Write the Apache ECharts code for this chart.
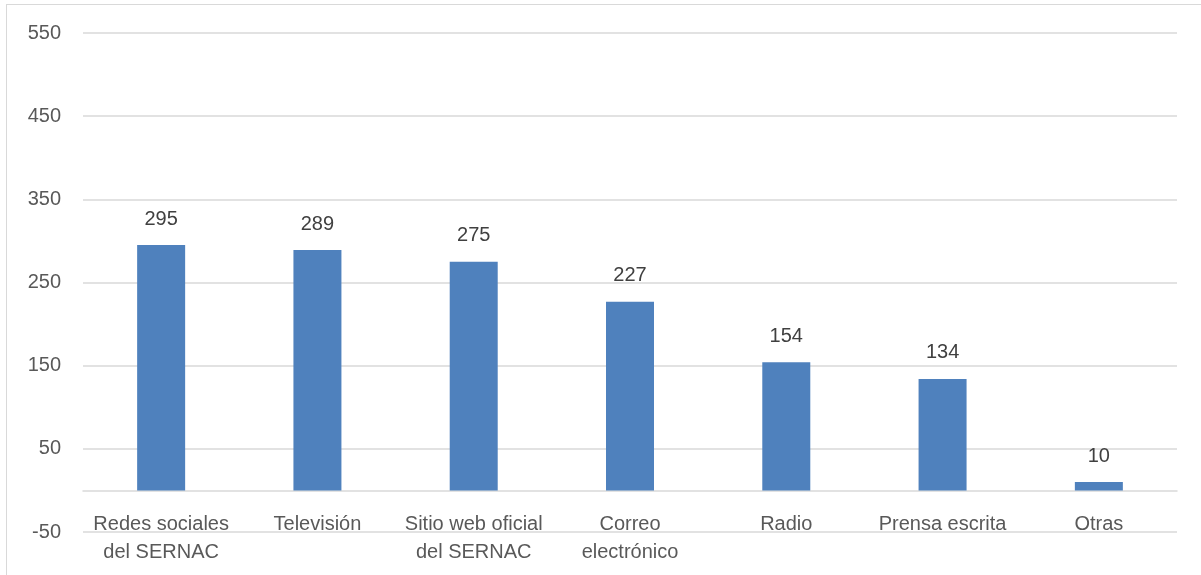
<!DOCTYPE html>
<html>
<head>
<meta charset="utf-8">
<script src="https://cdn.jsdelivr.net/npm/echarts@6/dist/echarts.min.js"></script>
<style>
html,body{margin:0;padding:0;background:#fff;}
#frame{position:absolute;left:6px;top:4px;width:1200px;height:600px;border:1px solid #d9d9d9;box-sizing:border-box;}
#c{position:absolute;left:0;top:0;width:1201px;height:575px;}
</style>
</head>
<body>
<div id="frame"></div>
<div id="c"></div>
<script>
const categories = ["Redes sociales del SERNAC", "Televisión", "Sitio web oficial del SERNAC", "Correo electrónico", "Radio", "Prensa escrita", "Otras"];
const tickLabels = ["Redes sociales\ndel SERNAC", "Televisión", "Sitio web oficial\ndel SERNAC", "Correo\nelectrónico", "Radio", "Prensa escrita", "Otras"];
const values = [295, 289, 275, 227, 154, 134, 10];

const font = "Liberation Sans";
const chart = echarts.init(document.getElementById('c'));
chart.setOption({
  animation: false,
  grid: {left: 83, right: 24, top: 33, bottom: 43, containLabel: false, outerBoundsMode: 'none'},
  xAxis: {
    type: 'category',
    data: categories,
    axisLine: {onZero: true, lineStyle: {color: '#d9d9d9', width: 1.5}},
    axisTick: {show: false},
    axisLabel: {
      interval: 0, margin: -22, fontFamily: font, fontSize: 20, color: '#595959', lineHeight: 28,
      formatter: (v, i) => tickLabels[categories.indexOf(v)]
    }
  },
  yAxis: {
    type: 'value', min: -50, max: 550, interval: 100,
    axisLine: {show: false}, axisTick: {show: false},
    axisLabel: {margin: 22, fontFamily: font, fontSize: 20, color: '#595959'},
    splitLine: {lineStyle: {color: '#d9d9d9', width: 1.5}}
  },
  series: [{
    type: 'bar',
    data: values,
    barWidth: 48,
    itemStyle: {color: '#4f81bd'},
    label: {show: true, position: 'top', distance: 16, fontFamily: font, fontSize: 20, color: '#404040'}
  }]
});
</script>
</body>
</html>
